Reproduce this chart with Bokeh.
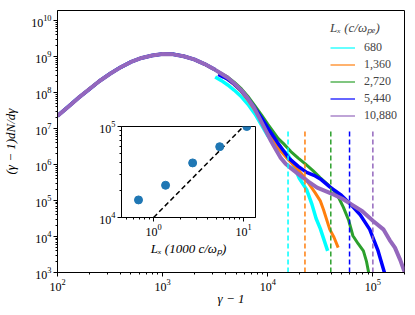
import math
from bokeh.plotting import figure
from bokeh.models import Legend, LegendItem, FixedTicker, Label, GridBox
from bokeh.embed import file_html
from bokeh.resources import INLINE

SERIF = "Liberation Serif"

# ---------------- data ----------------
hump_gamma = [100, 126, 158, 200, 251, 316, 398, 501, 631, 794, 1000, 1259, 1585, 1995, 2512, 3162]
hump_dnde = [2.24e7, 3.98e7, 7.08e7, 1.23e8, 2.09e8, 3.31e8, 5.01e8, 7.08e8, 9.12e8, 1.07e9,
             1.17e9, 1.15e9, 1.02e9, 8.32e8, 6.17e8, 4.27e8]

cyan_gamma = [3162, 3631, 4169, 4786, 5623, 6457, 7586, 8710, 10000, 11220, 12589, 15488, 17783,
              19953, 23442, 26303, 28840, 31623, 37154]
cyan_dnde = [2.69e8, 2.14e8, 1.62e8, 1.17e8, 7.59e7, 4.79e7, 2.51e7, 1.26e7, 6.31e6, 4.17e6, 3.16e6,
             1.91e6, 8.91e5, 4.17e5, 2.0e5, 7.94e4, 3.16e4, 1.66e4, 3.98e3]

orange_gamma = [3388, 3802, 4169, 4786, 5623, 6457, 7586, 8710, 10000, 11220, 12589, 15849, 19953,
                22909, 28184, 31623, 33884, 38905, 42658, 46774]
orange_dnde = [3.24e8, 2.69e8, 2.29e8, 1.66e8, 1.05e8, 6.31e7, 3.16e7, 1.58e7, 7.94e6, 4.47e6, 2.82e6,
               1.32e6, 6.61e5, 3.98e5, 1.66e5, 9.77e4, 5.62e4, 1.58e4, 9.55e3, 4.9e3]

green_gamma = [3162, 3631, 4169, 4786, 5623, 6457, 7586, 8710, 10000, 11220, 12589, 14125, 16596,
               19498, 22909, 26915, 31623, 37154, 42658, 47863, 52481, 58884, 64565, 72444, 81283,
               87096, 91201]
green_dnde = [4.27e8, 3.39e8, 2.69e8, 1.95e8, 1.26e8, 7.94e7, 4.17e7, 2.4e7, 1.32e7, 8.32e6, 5.25e6,
              3.8e6, 2.29e6, 1.51e6, 1.02e6, 6.76e5, 4.27e5, 2.82e5, 1.86e5, 1.12e5, 6.46e4, 2.82e4,
              1.05e4, 6.31e3, 3.98e3, 2.0e3, 1.0e3]

blue_gamma = [3388, 3802, 4169, 4786, 5623, 6457, 7586, 8710, 10000, 11220, 12589, 14125, 15849,
              19498, 23442, 27542, 31623, 38905, 50119, 60256, 75858, 93325, 102329, 112202, 128825]
blue_dnde = [3.16e8, 2.69e8, 2.34e8, 1.74e8, 1.12e8, 6.92e7, 3.63e7, 2.0e7, 1.05e7, 6.31e6, 3.8e6,
             2.4e6, 1.51e6, 8.91e5, 6.03e5, 5.01e5, 3.98e5, 2.4e5, 1.41e5, 8.32e4, 3.98e4, 1.58e4,
             7.94e3, 3.98e3, 1.0e3]

purple_gamma = [3162, 3631, 4169, 4786, 5623, 6457, 7413, 8913, 10715, 12023, 13183, 14791, 16596,
                20417, 24547, 29512, 35481, 42658, 51286, 60256, 79433, 100000, 125893, 144544,
                162181, 181970, 204174]
purple_dnde = [4.27e8, 3.31e8, 2.57e8, 1.82e8, 1.15e8, 6.92e7, 3.8e7, 1.32e7, 4.57e6, 2.51e6, 1.58e6,
               1.05e6, 7.94e5, 4.9e5, 3.31e5, 2.29e5, 1.82e5, 1.45e5, 1.12e5, 8.32e4, 5.01e4, 2.75e4,
               1.58e4, 7.94e3, 4.9e3, 2.24e3, 8.91e2]

series_labels = ["680", "1,360", "2,720", "5,440", "10,880"]
series_colors = ["#00ffff", "#ff7f0e", "#2ca02c", "#0000ff", "#9467bd"]
series_widths = [3.5, 3.0, 3.0, 3.5, 4.0]
tails = [(cyan_gamma, cyan_dnde), (orange_gamma, orange_dnde), (green_gamma, green_dnde),
         (blue_gamma, blue_dnde), (purple_gamma, purple_dnde)]

cutoff = [15600, 22600, 39800, 60000, 100000]
vline_bottom = 1e3
vline_top = 1e7

# inset
lx_thousand = [0.68, 1.36, 2.72, 5.44, 10.88]
ref_x = [1.0, 11.0]
ref_y = [1.0e4, 1.1e5]

# ticks
main_x_major = [1e2, 1e3, 1e4, 1e5]
main_y_major = [1e3, 1e4, 1e5, 1e6, 1e7, 1e8, 1e9, 1e10]
main_x_minor = [m * 10 ** k for k in range(2, 6) for m in range(2, 10)]
main_y_minor = [m * 10 ** k for k in range(3, 11) for m in range(2, 10)]
ins_x_major = [1, 10]
ins_x_minor = [m * 10 ** k for k in range(-1, 2) for m in range(2, 10)]
ins_y_major = [1e4, 1e5]
ins_y_minor = [m * 1e4 for m in range(2, 10)]

NAN = float("nan")


def style_axes(fig, xmaj, xmin, ymaj, ymin, font_size):
    fig.xaxis.ticker = FixedTicker(ticks=xmaj, minor_ticks=xmin)
    fig.yaxis.ticker = FixedTicker(ticks=ymaj, minor_ticks=ymin)
    for ax in (fig.xaxis[0], fig.yaxis[0]):
        ax.major_tick_out = 4
        ax.major_tick_in = 0
        ax.minor_tick_out = 2
        ax.minor_tick_in = 0
        ax.axis_line_color = "black"
        ax.major_tick_line_color = "black"
        ax.minor_tick_line_color = "black"
        ax.major_label_text_font = SERIF
        ax.major_label_text_font_size = font_size
        ax.major_label_text_color = "black"
        ax.major_label_standoff = 2
        ax.axis_label_text_font = SERIF
        ax.axis_label_text_color = "black"
    fig.grid.visible = False
    fig.outline_line_color = "black"
    fig.outline_line_alpha = 1.0
    fig.outline_line_width = 1


# ---------------- main figure ----------------
main = figure(width=415, height=315, x_axis_type="log", y_axis_type="log",
              x_range=(100, 2e5), y_range=(1e3, 1.9e10),
              output_backend="svg", toolbar_location=None,
              min_border_left=55, min_border_right=11, min_border_top=10, min_border_bottom=43,
              background_fill_color="white", border_fill_color="white")
style_axes(main, main_x_major, main_x_minor, main_y_major, main_y_minor, "12px")
main.xaxis.axis_label = "γ − 1"
main.yaxis.axis_label = "(γ − 1)dN/dγ"
for ax in (main.xaxis[0], main.yaxis[0]):
    ax.axis_label_text_font_size = "13px"
    ax.axis_label_text_font_style = "italic"
main.xaxis.axis_label_standoff = -3
main.yaxis.axis_label_standoff = 10

for (g, d), col, w in zip(tails, series_colors, series_widths):
    main.line(hump_gamma, hump_dnde, line_color=col, line_width=w, line_join="round")
    main.line(g, d, line_color=col, line_width=w, line_join="round")

main.segment(x0=cutoff, y0=[vline_bottom] * len(cutoff), x1=cutoff, y1=[vline_top] * len(cutoff),
             line_color=series_colors, line_width=1.5, line_dash="5 3")

# legend handles: thin, pale lines (no visible data)
legend_renderers = [main.line(x=[NAN], y=[NAN], line_color=c, line_width=2, line_alpha=0.6)
                    for c in series_colors]
legend = Legend(items=[LegendItem(label=l, renderers=[r]) for l, r in zip(series_labels, legend_renderers)],
                location=(273, 148), title="Lₓ (c/ωₚₑ)",
                border_line_color=None, background_fill_alpha=0, padding=0, margin=0, spacing=0,
                glyph_width=25, glyph_height=17, label_height=17, label_standoff=9,
                label_text_font=SERIF, label_text_font_size="12px",
                title_text_font=SERIF, title_text_font_size="13px", title_text_font_style="italic",
                title_standoff=3)
main.add_layout(legend)

# ---------------- inset ----------------
inset = figure(width=188, height=143, x_axis_type="log", y_axis_type="log",
               x_range=(0.44, 13.6), y_range=(1e4, 1e5),
               output_backend="svg", toolbar_location=None,
               min_border_left=49, min_border_right=5, min_border_top=11, min_border_bottom=35,
               background_fill_color="white", border_fill_color=None)
style_axes(inset, ins_x_major, ins_x_minor, ins_y_major, ins_y_minor, "12px")
inset.xaxis.axis_label = "Lₓ (1000 c/ωₚ)"
inset.xaxis.axis_label_text_font_size = "13px"
inset.xaxis.axis_label_standoff = 2
inset.line(ref_x, ref_y, line_color="black", line_width=1.5, line_dash="5 3")
inset.scatter(lx_thousand, cutoff, size=8, color="#1f77b4")

inset.add_layout(Label(x=-41, y=63, x_units="screen", y_units="screen", text="(γ − 1)", angle=math.pi / 2,
                       text_align="right", text_baseline="middle", text_font=SERIF,
                       text_font_size="13px", text_font_style="italic"))
inset.add_layout(Label(x=-37, y=63, x_units="screen", y_units="screen", text="cutoff", angle=math.pi / 2,
                       text_align="left", text_baseline="middle", text_font=SERIF,
                       text_font_size="9px"))

layout = GridBox(children=[(main, 0, 0, 3, 3), (inset, 1, 1, 1, 1)],
                 rows={0: "115px", 1: "143px", 2: "57px"},
                 cols={0: "72px", 1: "188px", 2: "155px"}, spacing=0)

open("out.html", "w").write(file_html(layout, INLINE))
